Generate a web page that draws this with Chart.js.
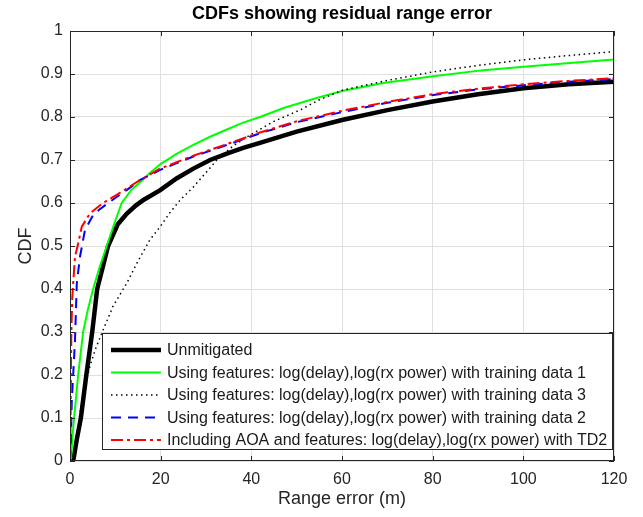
<!DOCTYPE html>
<html>
<head>
<meta charset="utf-8">
<script src="https://cdn.jsdelivr.net/npm/chart.js@4.4.1/dist/chart.umd.min.js"></script>
<style>
  html, body { margin: 0; padding: 0; background: #ffffff; }
  #wrap { width: 643px; height: 517px; }
</style>
</head>
<body>
<div id="wrap"><canvas id="cdf" width="643" height="517"></canvas></div>
<script>
// points: range error (m) and CDF
const unmitX = [0.7, 1.5, 2.4, 3.6, 4.9, 6.0, 7.2, 8.4, 10.5, 12.5, 14.5, 16.2, 19.9, 23.5, 27.2, 30.9, 34.6, 38.2, 41.9, 50, 60, 70, 80, 90, 100, 110, 120];
const unmitY = [0, 0.05, 0.1, 0.2, 0.3, 0.4, 0.45, 0.5, 0.55, 0.575, 0.594, 0.607, 0.63, 0.657, 0.68, 0.70, 0.715, 0.728, 0.74, 0.766, 0.793, 0.816, 0.836, 0.853, 0.867, 0.876, 0.882];

const td1X = [0.2, 0.5, 0.9, 1.8, 2.9, 3.9, 5.1, 6.5, 8.1, 9.7, 11.4, 13.5, 16.2, 17.6, 19.9, 23.5, 27.2, 30.9, 34.6, 38.2, 41.9, 47.1, 54.4, 60.3, 69.1, 80.1, 91.2, 100.1, 109.6, 120];
const td1Y = [0, 0.05, 0.1, 0.2, 0.3, 0.35, 0.4, 0.45, 0.5, 0.55, 0.6, 0.63, 0.655, 0.67, 0.69, 0.714, 0.735, 0.754, 0.771, 0.787, 0.80, 0.821, 0.844, 0.861, 0.879, 0.895, 0.909, 0.917, 0.925, 0.934];

const td3X = [0.3, 0.7, 1.5, 2.9, 4.4, 5.6, 7.0, 9.5, 12.5, 15, 17.6, 19.9, 22, 24.3, 27.2, 32.4, 36, 39.7, 45, 50.7, 55, 60.3, 70, 80.1, 90, 100.1, 110, 120];
const td3Y = [0, 0.01, 0.064, 0.157, 0.22, 0.26, 0.297, 0.36, 0.413, 0.465, 0.514, 0.545, 0.577, 0.607, 0.637, 0.70, 0.733, 0.758, 0.79, 0.816, 0.84, 0.863, 0.885, 0.905, 0.92, 0.933, 0.943, 0.952];

const td2X = [0, 0.2, 0.4, 0.7, 1.1, 1.5, 2.2, 3.3, 5.1, 6.5, 8.8, 12.5, 15.4, 19.9, 27.2, 34.6, 41.9, 50, 60.3, 70, 80.1, 90, 100.1, 110, 120];
const td2Y = [0, 0.05, 0.142, 0.2, 0.28, 0.413, 0.475, 0.537, 0.572, 0.585, 0.603, 0.63, 0.653, 0.677, 0.708, 0.735, 0.762, 0.788, 0.812, 0.833, 0.851, 0.864, 0.874, 0.882, 0.888];

const aoaX = [0, 0.1, 0.2, 0.3, 0.5, 0.7, 1.1, 1.8, 2.6, 4.4, 7.3, 10.3, 15.4, 19.9, 27.2, 34.6, 41.9, 50, 60.3, 70, 80.1, 90, 100.1, 110, 120];
const aoaY = [0, 0.05, 0.2, 0.3, 0.38, 0.413, 0.475, 0.506, 0.545, 0.576, 0.6, 0.619, 0.653, 0.68, 0.71, 0.737, 0.764, 0.79, 0.815, 0.835, 0.853, 0.866, 0.876, 0.884, 0.89];

const seriesLabels = [
  "Unmitigated",
  "Using features: log(delay),log(rx power) with training data 1",
  "Using features: log(delay),log(rx power) with training data 3",
  "Using features: log(delay),log(rx power) with training data 2",
  "Including AOA and features: log(delay),log(rx power) with TD2"
];
const xTickStep = 20;
const yTickStep = 0.1;

const FONT = '"Liberation Sans", Arial, Helvetica, sans-serif';
const AXIS_COLOR = "#262626";

function pts(xs, ys) {
  return xs.map((x, i) => ({ x: x, y: ys[i] }));
}

const styles = [
  { color: "#000000", width: 4.5, dash: [] },
  { color: "#00ff00", width: 2, dash: [] },
  { color: "#000000", width: 1.5, dash: [1.5, 3.5] },
  { color: "#0000ff", width: 2, dash: [10, 7] },
  { color: "#ff0000", width: 2, dash: [12, 4, 3, 4] }
];
const series = [[unmitX, unmitY], [td1X, td1Y], [td3X, td3Y], [td2X, td2Y], [aoaX, aoaY]];

const datasets = series.map((s, i) => ({
  label: seriesLabels[i],
  data: pts(s[0], s[1]),
  borderColor: styles[i].color,
  borderWidth: styles[i].width,
  borderDash: styles[i].dash,
  pointRadius: 0,
  tension: 0,
  fill: false,
  order: series.length - i // later series on top, like matlab
}));

// box, inward ticks, title, axis labels and legend drawn matlab style
const matlabFrame = {
  id: "matlabFrame",
  afterDatasetsDraw(chart) {
    const ctx = chart.ctx;
    const a = chart.chartArea;
    const xs = chart.scales.x, ys = chart.scales.y;
    ctx.save();
    ctx.strokeStyle = AXIS_COLOR;
    ctx.lineWidth = 1;
    ctx.setLineDash([]);
    ctx.strokeRect(a.left + 0.5, a.top + 0.5, a.right - a.left - 1, a.bottom - a.top - 1);

    const tl = 5;
    ctx.beginPath();
    xs.ticks.forEach(t => {
      const px = Math.round(xs.getPixelForValue(t.value)) + 0.5;
      ctx.moveTo(px, a.bottom); ctx.lineTo(px, a.bottom - tl);
      ctx.moveTo(px, a.top); ctx.lineTo(px, a.top + tl);
    });
    ys.ticks.forEach(t => {
      const py = Math.round(ys.getPixelForValue(t.value)) + 0.5;
      ctx.moveTo(a.left, py); ctx.lineTo(a.left + tl, py);
      ctx.moveTo(a.right, py); ctx.lineTo(a.right - tl, py);
    });
    ctx.stroke();

    // legend
    const lx = 102, ly = 333, lw = 511, lh = 117;
    ctx.fillStyle = "#ffffff";
    ctx.fillRect(lx, ly, lw, lh);
    ctx.strokeStyle = AXIS_COLOR;
    ctx.strokeRect(lx + 0.5, ly + 0.5, lw - 1, lh - 1);
    ctx.font = "16px " + FONT;
    ctx.textBaseline = "middle";
    ctx.textAlign = "left";
    datasets.forEach((d, i) => {
      const ry = 350 + i * 22.5;
      ctx.beginPath();
      ctx.strokeStyle = d.borderColor;
      ctx.lineWidth = d.borderWidth;
      ctx.setLineDash(d.borderDash);
      ctx.moveTo(111, ry);
      ctx.lineTo(161, ry);
      ctx.stroke();
      ctx.setLineDash([]);
      ctx.fillStyle = "#1a1a1a";
      ctx.fillText(d.label, 167, ry + 1);
    });
    ctx.restore();
  },
  afterDraw(chart) {
    const ctx = chart.ctx;
    const a = chart.chartArea;
    const cx = (a.left + a.right) / 2;
    ctx.save();
    ctx.fillStyle = "#000000";
    ctx.textAlign = "center";
    ctx.textBaseline = "alphabetic";
    ctx.font = "bold 18px " + FONT;
    ctx.fillText("CDFs showing residual range error", cx, 19);
    ctx.fillStyle = AXIS_COLOR;
    ctx.font = "18px " + FONT;
    ctx.fillText("Range error (m)", cx, 504);
    ctx.translate(31, (a.top + a.bottom) / 2);
    ctx.rotate(-Math.PI / 2);
    ctx.fillText("CDF", 0, 0);
    ctx.restore();
  }
};

new Chart(document.getElementById("cdf"), {
  type: "line",
  data: { datasets: datasets },
  options: {
    responsive: false,
    animation: false,
    devicePixelRatio: 1,
    layout: { padding: { left: 0, top: 31, right: 29, bottom: 0 } },
    plugins: {
      legend: { display: false },
      title: { display: false },
      tooltip: { enabled: false }
    },
    scales: {
      x: {
        type: "linear",
        min: 0,
        max: 120,
        ticks: {
          stepSize: xTickStep,
          padding: 9,
          maxRotation: 0,
          color: AXIS_COLOR,
          font: { family: FONT, size: 16 }
        },
        grid: { color: "#e0e0e0", drawTicks: false },
        border: { display: false },
        afterFit: s => { s.height = 56; }
      },
      y: {
        min: 0,
        max: 1,
        ticks: {
          stepSize: yTickStep,
          padding: 7,
          color: AXIS_COLOR,
          font: { family: FONT, size: 16 },
          callback: v => String(+v.toFixed(1))
        },
        grid: { color: "#e0e0e0", drawTicks: false },
        border: { display: false },
        afterFit: s => { s.width = 70; }
      }
    }
  },
  plugins: [matlabFrame]
});
</script>
</body>
</html>
